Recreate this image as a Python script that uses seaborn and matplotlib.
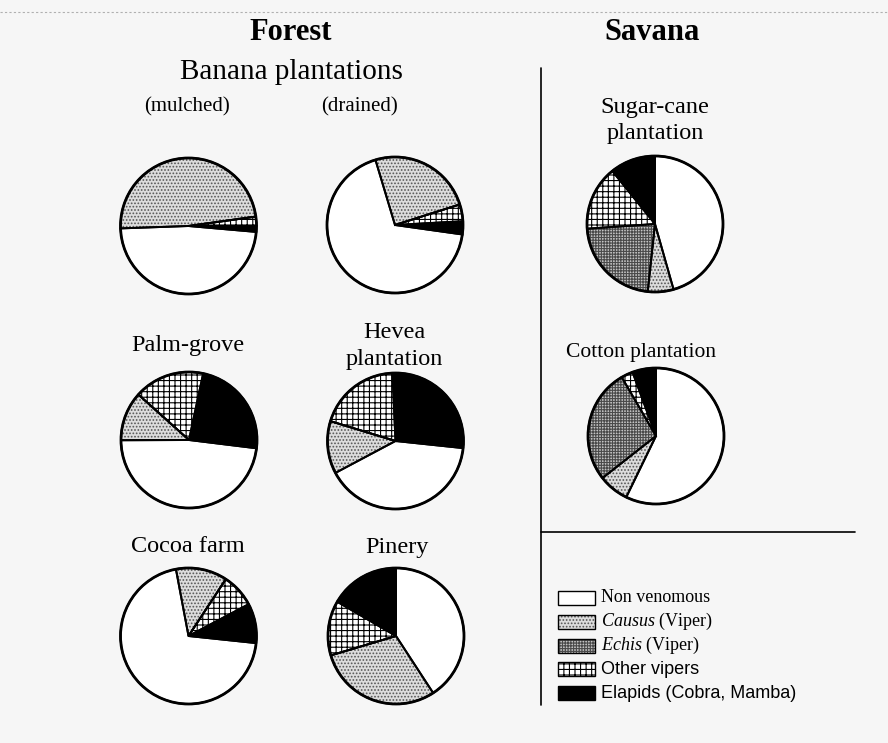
import matplotlib
matplotlib.use("Agg")
import matplotlib.pyplot as plt
from matplotlib.patches import Rectangle
import seaborn as sns

# categories, in the order they go round each pie (clockwise)
categories = ["Non venomous", "Causus", "Echis", "Other vipers", "Elapids"]
legend_labels = ["Non venomous", r"$\mathit{Causus}$ (Viper)", r"$\mathit{Echis}$ (Viper)",
                 "Other vipers", "Elapids (Cobra, Mamba)"]

# share of each category per habitat (%)
banana_mulched = [48.0, 48.3, 0.0, 2.2, 1.4]
banana_drained = [68.0, 24.7, 0.0, 4.0, 3.1]
palm_grove = [48.0, 11.7, 0.0, 16.7, 23.6]
hevea = [40.6, 12.5, 0.0, 19.6, 27.4]
cocoa = [70.3, 12.2, 0.0, 8.0, 9.4]
pinery = [40.8, 29.6, 0.0, 13.0, 16.6]
sugar_cane = [45.6, 6.1, 22.2, 15.3, 10.8]
cotton = [57.2, 7.2, 27.2, 2.8, 5.6]

W, H = 888, 743
R = 68

# fill style per category: facecolor, hatch, hatch colour
styles = [
    ("white", "", "white"),
    ("#dcdcdc", ".....", "#555555"),
    ("#c4c4c4", "++++++", "#4a4a4a"),
    ("white", "+++", "black"),
    ("black", "", "black"),
]

serif = "Liberation Serif"
sans = "Liberation Sans"
BG = "#f6f6f6"


def Y(y):
    return H - y


def draw_pie(ax, values, cx, cy, start):
    wedges, _ = ax.pie(values, center=(cx, Y(cy)), radius=R, startangle=start,
                       counterclock=False, wedgeprops=dict(linewidth=0))
    for w, (fc, hatch, hc) in zip(wedges, styles):
        w.set_facecolor(fc)
        w.set_edgecolor(hc)
        w.set_hatch(hatch)
    # outline pass
    ax.pie(values, center=(cx, Y(cy)), radius=R, startangle=start,
           counterclock=False,
           wedgeprops=dict(facecolor="none", edgecolor="black", linewidth=1.4))
    circ = plt.Circle((cx, Y(cy)), R, facecolor="none", edgecolor="black", linewidth=2)
    ax.add_patch(circ)


def label(ax, x, y, s, size=17.5, **kw):
    ax.text(x, Y(y), s, family=serif, fontsize=size, ha="center", va="center",
            color="black", **kw)


def main():
    sns.set_theme(style="white")
    plt.rcParams["hatch.linewidth"] = 0.8
    plt.rcParams["text.color"] = "black"
    plt.rcParams["mathtext.fontset"] = "custom"
    plt.rcParams["mathtext.rm"] = serif
    plt.rcParams["mathtext.it"] = serif + ":italic"

    fig = plt.figure(figsize=(W / 100, H / 100), dpi=100)
    fig.patch.set_facecolor(BG)
    ax = fig.add_axes([0, 0, 1, 1])
    ax.set_facecolor(BG)

    draw_pie(ax, banana_mulched, 188.5, 226, -5)
    draw_pie(ax, banana_drained, 395, 225, -8)
    draw_pie(ax, palm_grove, 189, 440, -7)
    draw_pie(ax, hevea, 395.5, 441, -6)
    draw_pie(ax, cocoa, 188.5, 636, -6)
    draw_pie(ax, pinery, 396, 636, 90)
    draw_pie(ax, sugar_cane, 655, 224, 90)
    draw_pie(ax, cotton, 656, 436, 90)

    # headings
    label(ax, 291, 33, "Forest", size=22, weight="bold")
    label(ax, 652, 33, "Savana", size=22, weight="bold")
    label(ax, 291, 72, "Banana plantations", size=21)
    label(ax, 187, 107, "(mulched)", size=15)
    label(ax, 359, 107, "(drained)", size=15)
    label(ax, 655, 107, "Sugar-cane")
    label(ax, 655, 134, "plantation")
    label(ax, 188, 346, "Palm-grove")
    label(ax, 394, 333, "Hevea")
    label(ax, 394, 359, "plantation")
    label(ax, 188, 547, "Cocoa farm")
    label(ax, 397, 547, "Pinery")
    label(ax, 641, 352, "Cotton plantation", size=15.5)

    # dividers
    ax.plot([541, 541], [Y(68), Y(705)], color="black", linewidth=1.2)
    ax.plot([541, 855], [Y(532), Y(532)], color="black", linewidth=1.2)
    ax.plot([0, W], [Y(12), Y(12)], color="#b0b0b0", linewidth=0.8, linestyle=(0, (2, 2)))

    # legend
    fonts = [serif, serif, serif, sans, sans]
    for i, (lab, (fc, hatch, hc)) in enumerate(zip(legend_labels, styles)):
        yc = 598 + i * 23.8
        sw = Rectangle((558, Y(yc + 7)), 37, 14, facecolor=fc, edgecolor=hc, hatch=hatch, linewidth=0)
        ax.add_patch(sw)
        ax.add_patch(Rectangle((558, Y(yc + 7)), 37, 14, facecolor="none", edgecolor="black", linewidth=1))
        ax.text(601, Y(yc), lab, family=fonts[i], fontsize=13, ha="left", va="center", color="black")

    ax.set_aspect("equal")
    ax.set_xlim(0, W)
    ax.set_ylim(0, H)
    ax.axis("off")
    fig.savefig("out.png", dpi=100, facecolor=fig.get_facecolor())


if __name__ == "__main__":
    main()
